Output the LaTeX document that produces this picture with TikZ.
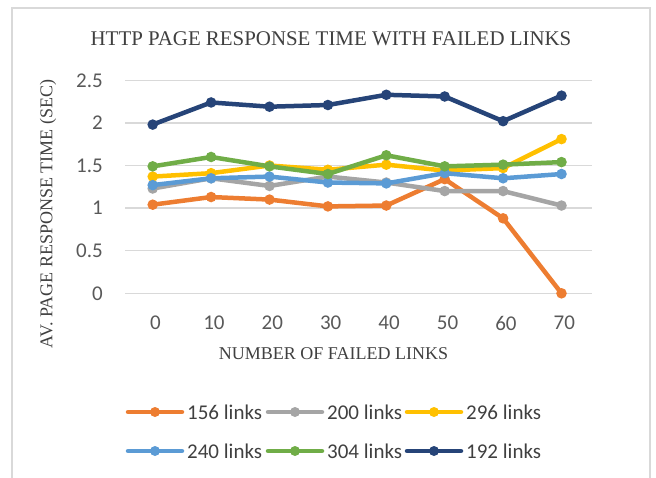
\documentclass[tikz,border=0pt]{standalone}
\usepackage{fontspec}
\setmainfont{Liberation Serif}
\newfontfamily\calib{Carlito}
\usetikzlibrary{calc}
\definecolor{cOrange}{HTML}{ED7D31}
\definecolor{cGray}{HTML}{A5A5A5}
\definecolor{cYellow}{HTML}{FFC000}
\definecolor{cBlue}{HTML}{5B9BD5}
\definecolor{cGreen}{HTML}{70AD47}
\definecolor{cNavy}{HTML}{264478}
\definecolor{gridc}{HTML}{D9D9D9}
\definecolor{txt}{HTML}{595959}
\definecolor{ttl}{HTML}{404040}
\tikzset{
  gridline/.style={draw=gridc, line width=1.4},
  framebox/.style={draw=gridc, line width=1.5},
  ticklab/.style={font=\calib\fontsize{21}{25}\selectfont, text=txt, inner sep=0},
  legtext/.style={font=\calib\fontsize{21}{25}\selectfont, text=ttl, inner sep=0, anchor=west},
  titletext/.style={font=\fontsize{20.9}{24}\selectfont, text=ttl, inner sep=0},
  axtitle/.style={font=\fontsize{18}{21}\selectfont, text=ttl, inner sep=0},
  series/.style={draw=#1, line width=4.5, line join=round, line cap=round},
  dot/.style={fill=#1},
}
\newcommand{\yv}[1]{293.3-85.2*#1}
\begin{document}
\begin{tikzpicture}[x=1pt,y=-1pt]
\useasboundingbox (0,0) rectangle (656,477);
% frame
\draw[framebox] (12,478) -- (12,8) -- (650,8) -- (650,478);
% title
\node[titletext] (title) at (331,38.5) {HTTP PAGE RESPONSE TIME WITH FAILED LINKS};
% grid and y ticks
\foreach \v/\t [count=\k] in {0/0,0.5/0.5,1/1,1.5/1.5,2/2,2.5/2.5}{
  \draw[gridline] (125,{\yv{\v}}) -- (592,{\yv{\v}});
  \node[ticklab, anchor=east] (ylab\k) at (103,{\yv{\v}}) {\t};
}
% x ticks
\foreach \t [count=\i from 0] in {0,10,20,30,40,50,60,70}{
  \node[ticklab] (xlab\i) at ({155.5+58.4*\i},323) {\t};
}
\node[axtitle] (xtitle) at (333.5,353.5) {NUMBER OF FAILED LINKS};
\node[axtitle, rotate=90] (ytitle) at (48,214) {AV. PAGE RESPONSE TIME (SEC)};
% series
\foreach \nm/\col/\data in {
  a/cOrange/{1.04,1.13,1.10,1.02,1.03,1.34,0.88,0},
  b/cGray/{1.23,1.35,1.26,1.37,1.30,1.20,1.20,1.03},
  c/cYellow/{1.37,1.41,1.50,1.45,1.51,1.44,1.47,1.81},
  d/cBlue/{1.27,1.35,1.37,1.30,1.29,1.41,1.35,1.40},
  e/cGreen/{1.49,1.60,1.49,1.40,1.62,1.49,1.51,1.54},
  f/cNavy/{1.98,2.24,2.19,2.21,2.33,2.31,2.02,2.32}}{
  \foreach \v [count=\i from 0] in \data {
    \coordinate (\nm\i) at ({152.7+58.4*\i},{\yv{\v}});
  }
  \draw[series=\col] (\nm0) -- (\nm1) -- (\nm2) -- (\nm3) -- (\nm4) -- (\nm5) -- (\nm6) -- (\nm7);
  \foreach \i in {0,...,7}{ \fill[dot=\col] (\nm\i) circle (5.3); }
}
% legend
\foreach \col/\lab/\x/\y [count=\k] in {
  cOrange/156 links/0/412, cGray/200 links/140/412, cYellow/296 links/279/412,
  cBlue/240 links/0/451, cGreen/304 links/140/451, cNavy/192 links/279/451}{
  \coordinate (lgA\k) at ({128+\x},\y);
  \coordinate (lgB\k) at ({182+\x},\y);
  \draw[series=\col] (lgA\k) -- (lgB\k);
  \fill[dot=\col] ($(lgA\k)!0.5!(lgB\k)$) circle (5);
  \node[legtext] (lgT\k) at ({187+\x},\y) {\lab};
}
\end{tikzpicture}
\end{document}
